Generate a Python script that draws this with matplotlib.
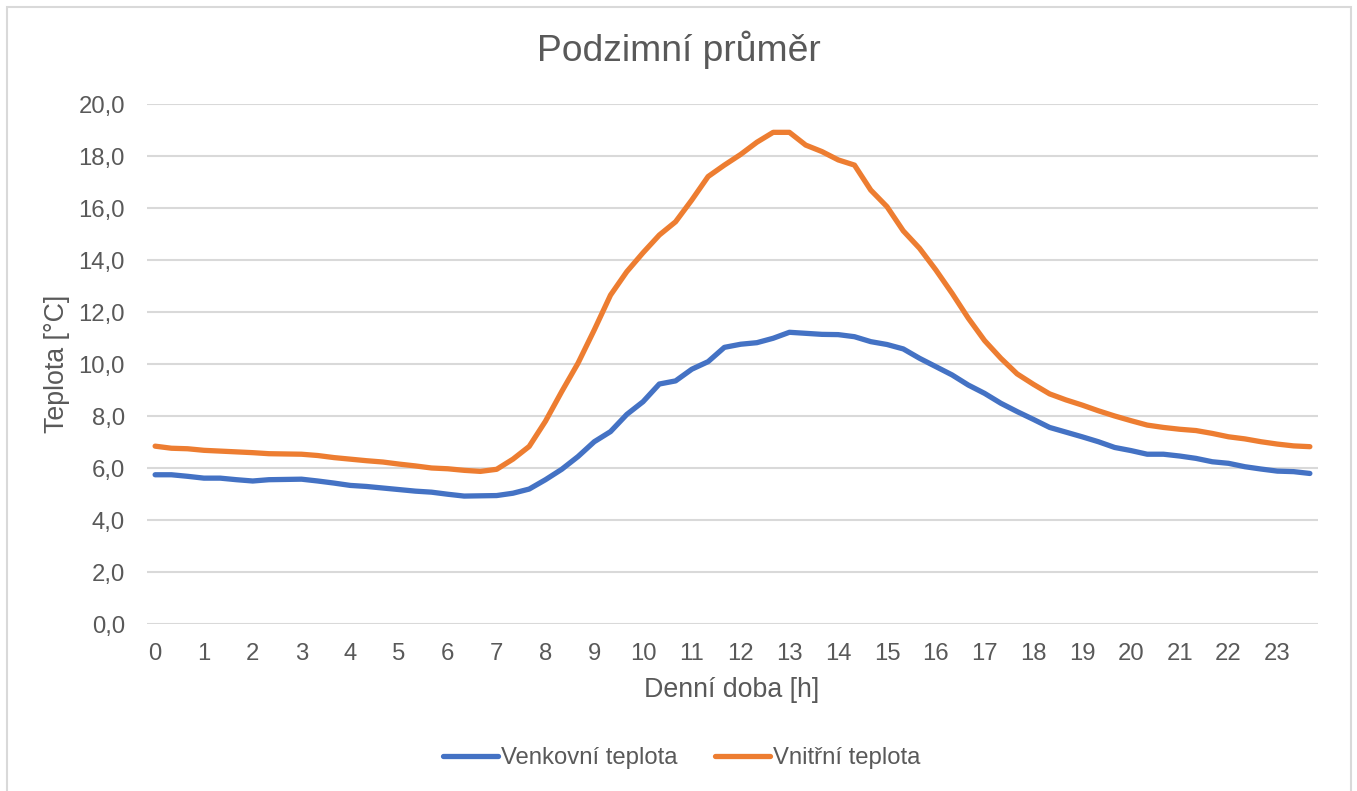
import matplotlib
matplotlib.use("Agg")
import matplotlib.pyplot as plt
from matplotlib.patches import Rectangle

plt.rcParams['font.family'] = ['Liberation Sans', 'DejaVu Sans']

# 20-minute samples over 24 h (72 categories), labelled every hour
hour_labels = [str(h) for h in range(24)]

venkovni = [5.74, 5.74, 5.68, 5.61, 5.61, 5.55, 5.50, 5.55, 5.56, 5.57, 5.50, 5.42,
            5.33, 5.29, 5.23, 5.17, 5.11, 5.07, 4.99, 4.92, 4.93, 4.94, 5.03, 5.19,
            5.55, 5.95, 6.44, 7.01, 7.40, 8.06, 8.55, 9.23, 9.35, 9.80, 10.09, 10.64,
            10.76, 10.82, 10.99, 11.22, 11.18, 11.14, 11.13, 11.05, 10.86, 10.75, 10.58, 10.22,
            9.90, 9.58, 9.19, 8.87, 8.49, 8.17, 7.87, 7.56, 7.38, 7.20, 7.01, 6.79,
            6.67, 6.53, 6.53, 6.46, 6.37, 6.24, 6.18, 6.05, 5.96, 5.88, 5.86, 5.79]

vnitrni = [6.84, 6.76, 6.74, 6.68, 6.65, 6.62, 6.59, 6.55, 6.54, 6.53, 6.48, 6.40,
           6.34, 6.28, 6.23, 6.15, 6.08, 6.00, 5.97, 5.91, 5.87, 5.95, 6.34, 6.83,
           7.80, 8.94, 10.03, 11.31, 12.65, 13.55, 14.28, 14.96, 15.47, 16.31, 17.21, 17.65,
           18.06, 18.53, 18.91, 18.91, 18.42, 18.17, 17.85, 17.65, 16.69, 16.05, 15.12, 14.45,
           13.62, 12.72, 11.76, 10.90, 10.22, 9.62, 9.22, 8.85, 8.62, 8.42, 8.20, 8.00,
           7.82, 7.65, 7.56, 7.49, 7.44, 7.33, 7.20, 7.12, 7.01, 6.92, 6.85, 6.82]

series_names = ["Venkovní teplota", "Vnitřní teplota"]
colors = ["#4472C4", "#ED7D31"]
y_ticks = [0, 2, 4, 6, 8, 10, 12, 14, 16, 18, 20]

W, H = 1357, 791
fig = plt.figure(figsize=(W / 100, H / 100), dpi=100)
ax = fig.add_axes([147 / W, 1 - 624 / H, (1318 - 147) / W, (624 - 104) / H])

x = list(range(len(venkovni)))
for vals, name, c in zip([venkovni, vnitrni], series_names, colors):
    ax.plot(x, vals, color=c, lw=3.8, label=name,
            solid_capstyle='round', solid_joinstyle='round', zorder=3)

txt = "#595959"
ax.set_xlim(-0.5, len(venkovni) - 0.5)
ax.set_ylim(0, 20)
ax.set_xticks(list(range(0, len(venkovni), 3)))
ax.set_xticklabels(hour_labels)
ax.set_yticks(y_ticks)
ax.set_yticklabels([f"{v:.1f}".replace('.', ',') for v in y_ticks])
ax.tick_params(axis='both', length=0, labelsize=17.2, colors=txt)
ax.tick_params(axis='y', pad=16)
ax.tick_params(axis='x', pad=14)
ax.grid(axis='y', color='#D9D9D9', lw=1.5, zorder=0)
for s in ax.spines.values():
    s.set_visible(False)

fig.text(679 / W, 1 - 50 / H, "Podzimní průměr", ha='center', va='center', fontsize=26.8, color=txt)
fig.text(732 / W, 1 - 690 / H, "Denní doba [h]", ha='center', va='center', fontsize=19.3, color=txt)
fig.text(57 / W, 1 - 364 / H, "Teplota [°C]", ha='center', va='center', fontsize=19.3,
         color=txt, rotation=90)

leg = fig.legend(loc='center', bbox_to_anchor=(681.5 / W, 1 - 758 / H), ncol=2, frameon=False,
                 fontsize=17.2, handlelength=2.3, handletextpad=0.13, columnspacing=1.55)
for t in leg.get_texts():
    t.set_color(txt)

fig.patches.append(Rectangle((7 / W, -0.01), (1351 - 7) / W, 1.01 - 7 / H, transform=fig.transFigure,
                             fill=False, edgecolor='#D9D9D9', lw=1.5))

fig.savefig("out.png", dpi=100, facecolor='white')
